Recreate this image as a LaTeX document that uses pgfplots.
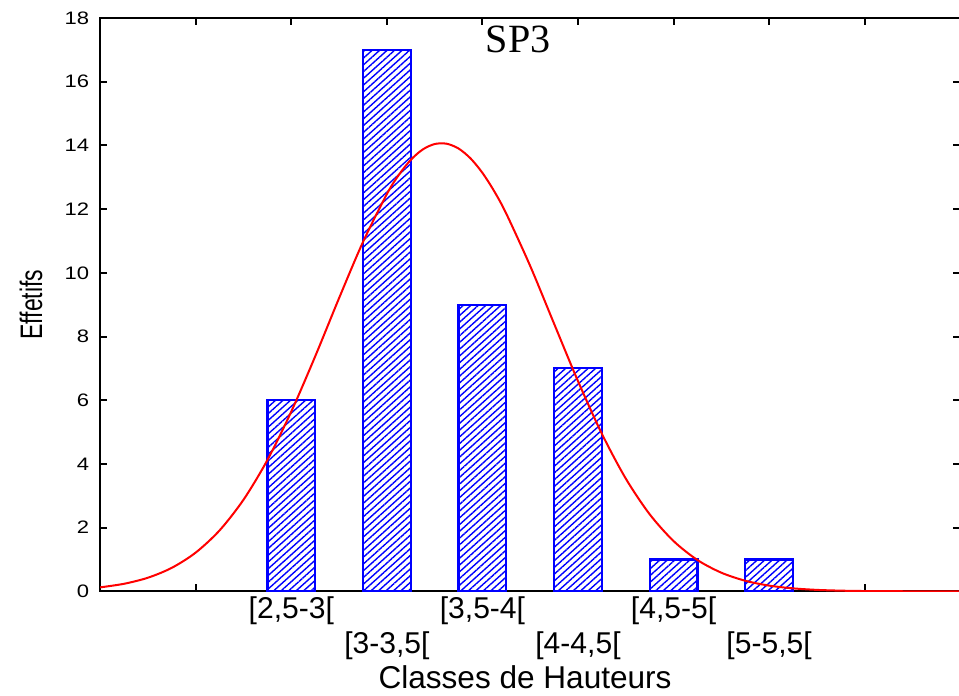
\documentclass[border=0pt]{standalone}
\usepackage{pgfplots}
\pgfplotsset{compat=1.18}
\usepackage{graphicx}
\usepackage{fontspec}
\setmainfont{Liberation Sans}
\newfontfamily\seriffont{Liberation Serif}
\usetikzlibrary{patterns.meta}
\begin{document}
\begin{tikzpicture}
\begin{axis}[name=ax, scale only axis, width=858pt, height=572pt,
  xmin=0, xmax=9, ymin=0, ymax=18,
  axis line style={line width=2pt, black},
  tick align=inside, major tick length=7pt,
  tick style={line width=2pt, black},
  /pgf/number format/assume math mode=true,
  xtick={0,1,...,9},
  xticklabels={,,{[2,5-3[},,{[3,5-4[},,{[4,5-5[},,,},
  extra x ticks={3,5,7},
  extra x tick labels={{[3-3,5[},{[4-4,5[},{[5-5,5[}},
  extra x tick style={xticklabel style={yshift=-35pt}},
  xticklabel style={font=\fontsize{30}{30}\selectfont, inner sep=0pt, yshift=-5pt},
  ytick={0,2,...,18},
  yticklabel={\scalebox{1.22}[1]{\pgfmathprintnumber{\tick}}},
  yticklabel style={font=\fontsize{18}{18}\selectfont, inner sep=0pt, xshift=-11pt},
  ylabel={\scalebox{0.74}[1]{Effetifs}},
  ylabel style={at={(rel axis cs:0,0.5)}, anchor=center, yshift=69pt, font=\fontsize{31}{31}\selectfont},
  xlabel={Classes de Hauteurs},
  xlabel style={at={(rel axis cs:0.494,0)}, anchor=center, yshift=-86pt, font=\fontsize{31.5}{31.5}\selectfont},
  title={SP3},
  title style={at={(rel axis cs:0.486,1)}, anchor=north, inner sep=0pt, yshift=-14pt, font=\seriffont\fontsize{40}{40}\selectfont},
]
\addplot[ybar, bar width=0.5, draw=blue, line width=2.2pt, fill=white,
  postaction={pattern={Lines[angle=42, distance=5pt, line width=1.4pt]}, pattern color=blue}]
  coordinates {(2,6) (3,17) (4,9) (5,7) (6,1) (7,1)};
\addplot[red, line width=2pt, smooth] coordinates {
(0,0.126)(0.25,0.238)(0.5,0.429)(0.75,0.740)(1,1.219)(1.25,1.917)(1.5,2.879)(1.75,4.126)
(2,5.648)(2.25,7.380)(2.5,9.209)(2.75,10.969)(3,12.474)(3.125,13.075)(3.25,13.547)(3.375,13.873)
(3.5,14.044)(3.625,14.054)(3.75,13.903)(3.875,13.594)(4,13.139)(4.125,12.553)(4.25,11.855)
(4.5,10.214)(4.75,8.402)(5,6.599)(5.25,4.948)(5.5,3.541)
(5.75,2.421)(6,1.580)(6.25,0.984)(6.5,0.586)(6.75,0.333)(7,0.180)(7.25,0.094)(7.5,0.046)
(7.75,0.022)(8,0.010)(8.5,0.002)(9,0.000)};
\end{axis}
\pgfresetboundingbox
\path[use as bounding box] ([shift={(-100pt,-104pt)}]ax.south west) rectangle ([shift={(-1.2pt,18pt)}]ax.north east);
\end{tikzpicture}
\end{document}
